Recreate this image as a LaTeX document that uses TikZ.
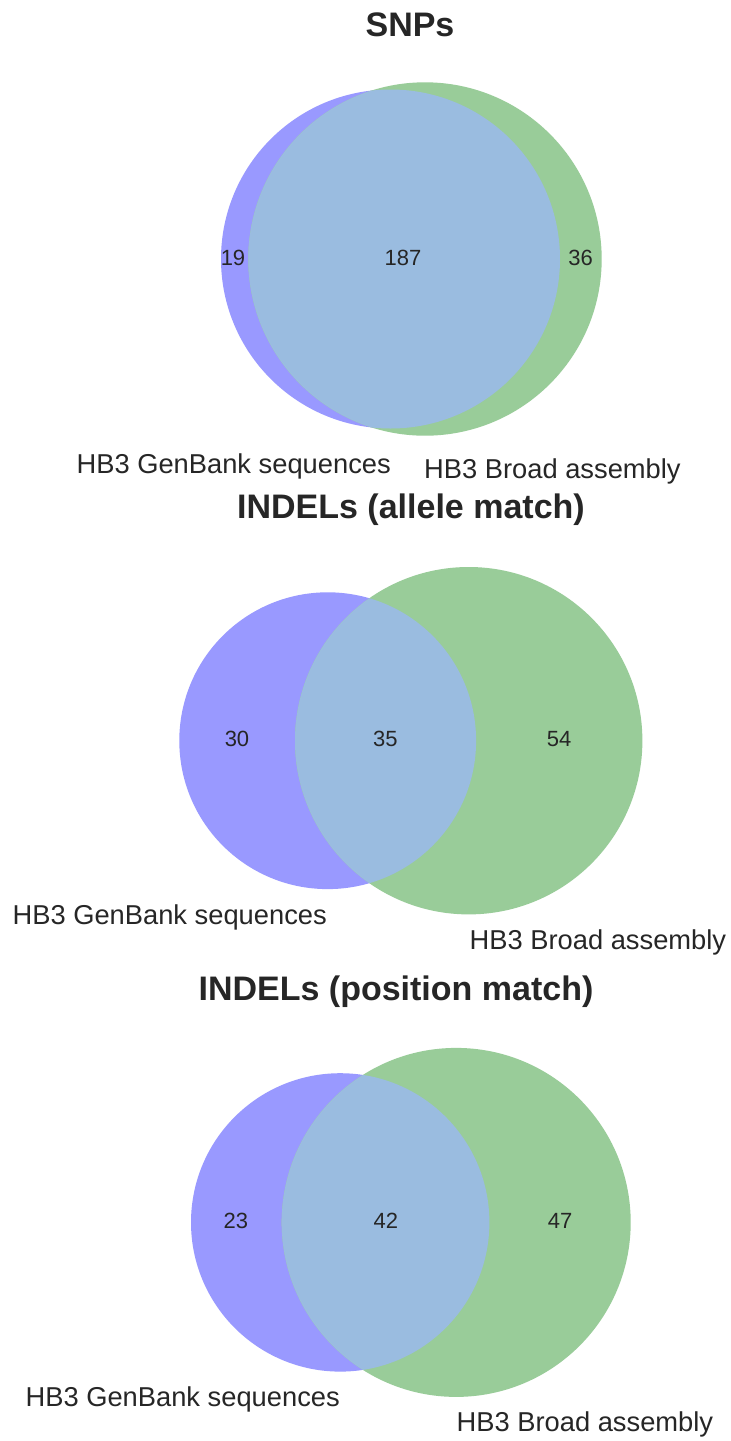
\documentclass[tikz,border=0pt]{standalone}
\usepackage{fontspec}
\setmainfont{Liberation Sans}
\definecolor{setA}{RGB}{153,153,255}
\definecolor{setB}{RGB}{153,204,153}
\definecolor{setAB}{RGB}{154,188,224}
\definecolor{txt}{RGB}{38,38,38}
\tikzset{
  ttl/.style={anchor=base,inner sep=0pt,text=txt,font=\fontsize{34}{40}\selectfont\bfseries},
  lbl/.style={inner sep=0pt,text=txt,font=\fontsize{27.3}{32}\selectfont},
  num/.style={anchor=center,inner sep=0pt,text=txt,font=\fontsize{22}{26}\selectfont},
}
\newcommand{\vennpair}[6]{%
  % #1 xA, #2 y, #3 rA, #4 xB, #5 rB
  \fill[setA] (#1,#2) circle[radius=#3pt];
  \fill[setB] (#4,#2) circle[radius=#5pt];
  \begin{scope}
    \clip (#1,#2) circle[radius=#3pt];
    \fill[setAB] (#4,#2) circle[radius=#5pt];
  \end{scope}
}
\begin{document}
\begin{tikzpicture}[x=1pt,y=-1pt]
\useasboundingbox (0,0) rectangle (731,1441);
\fill[white] (0,0) rectangle (731,1441);

% ---- SNPs ----
\vennpair{390.5}{259}{169.5}{425}{176.7}{}
\node[ttl] (t1) at (410,36) {SNPs};
\node[num] (n1a) at (233,257.5) {19};
\node[num] (n1ab) at (403,257.5) {187};
\node[num] (n1b) at (580.7,257.5) {36};
\node[lbl,anchor=base east] (l1a) at (391,473) {HB3 GenBank sequences};
\node[lbl,anchor=base west] (l1b) at (424,478) {HB3 Broad assembly};

% ---- INDELs allele ----
\vennpair{327.7}{740.7}{148.4}{468.7}{173.7}{}
\node[ttl] (t2) at (411,518) {INDELs (allele match)};
\node[num] (n2a) at (237,738.7) {30};
\node[num] (n2ab) at (385.3,738.7) {35};
\node[num] (n2b) at (559,738.7) {54};
\node[lbl,anchor=base east] (l2a) at (327,924) {HB3 GenBank sequences};
\node[lbl,anchor=base west] (l2b) at (469.5,949) {HB3 Broad assembly};

% ---- INDELs position ----
\vennpair{340.2}{1222.4}{149.2}{456.2}{174.5}{}
\node[ttl] (t3) at (396,1000) {INDELs (position match)};
\node[num] (n3a) at (235.8,1221) {23};
\node[num] (n3ab) at (385.8,1221) {42};
\node[num] (n3b) at (560,1221) {47};
\node[lbl,anchor=base east] (l3a) at (340,1406) {HB3 GenBank sequences};
\node[lbl,anchor=base west] (l3b) at (456.5,1431) {HB3 Broad assembly};
\end{tikzpicture}
\end{document}
